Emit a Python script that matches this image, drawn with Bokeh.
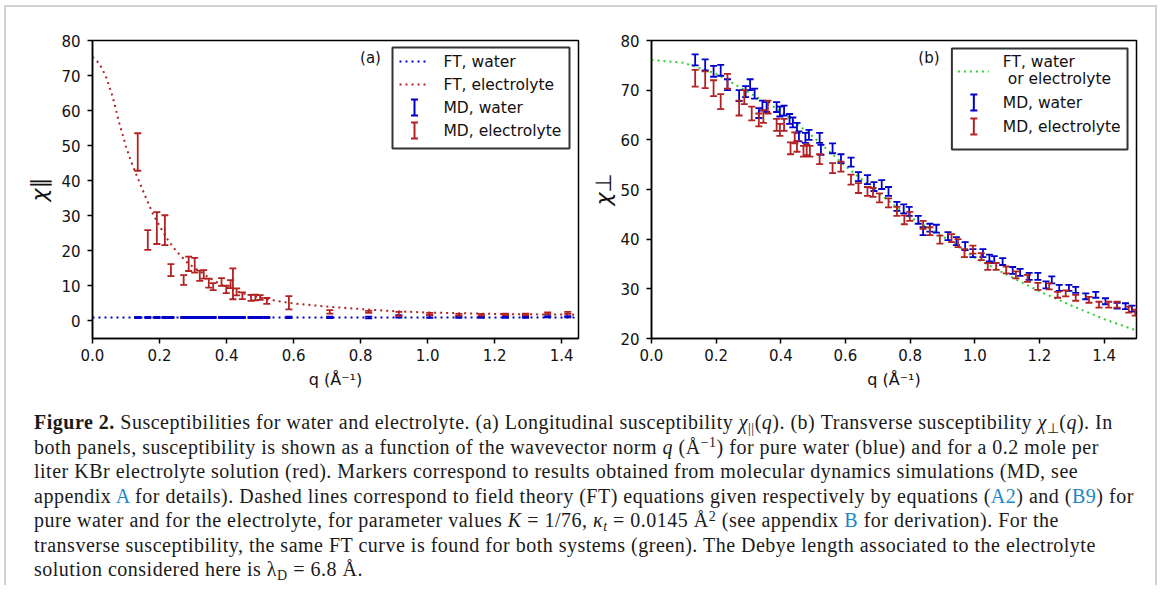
from bokeh.plotting import figure
from bokeh.models import (Range1d, FixedTicker, PrintfTickFormatter, Label,
                          BoxAnnotation, Div, ColumnDataSource)
from bokeh.layouts import row, column
from bokeh.embed import file_html
from bokeh.resources import INLINE

RED = "#b22222"
BLUE = "#0000cd"
GREEN = "#32cd32"

# ---------------- Panel (a): longitudinal susceptibility ----------------
q_ft_a = [0.0, 0.02, 0.04, 0.06, 0.08, 0.10, 0.12, 0.14, 0.16, 0.18, 0.20, 0.22,
          0.24, 0.26, 0.28, 0.30, 0.35, 0.40, 0.45, 0.50, 0.55, 0.60, 0.70, 0.80,
          0.90, 1.00, 1.10, 1.20, 1.30, 1.45]
chi_par_ft_elec = [75.3, 73.5, 69.8, 64.0, 56.4, 49.7, 44.2, 39.6, 35.0, 30.6, 27.1, 23.8,
                   21.1, 18.9, 16.9, 15.4, 12.2, 9.5, 7.8, 6.7, 5.7, 5.0, 4.1, 3.4,
                   2.8, 2.4, 2.2, 2.0, 1.9, 1.8]
q_ft_water_a = [0.0, 0.2, 0.4, 0.6, 0.8, 1.0, 1.2, 1.45]
chi_par_ft_water = [1.0, 1.0, 1.0, 1.0, 1.0, 1.0, 1.0, 1.0]

q_md_a = [0.135, 0.165, 0.192, 0.216, 0.234, 0.272, 0.287, 0.305, 0.320, 0.332,
          0.347, 0.360, 0.385, 0.399, 0.412, 0.419, 0.430, 0.447, 0.473, 0.486,
          0.500, 0.520, 0.586, 0.708, 0.824, 0.914, 1.006, 1.093, 1.160, 1.232,
          1.292, 1.358, 1.418]
chi_par_md_elec = [48.2, 23.1, 26.5, 25.9, 14.5, 11.7, 16.3, 15.9, 12.9, 13.3,
                   10.8, 9.8, 11.1, 9.0, 10.5, 10.6, 8.3, 7.2, 6.6, 6.7,
                   6.7, 5.7, 5.2, 2.6, 2.6, 2.0, 2.0, 1.8, 1.8, 1.9,
                   1.9, 2.2, 2.3]
err_par_md_elec = [5.35, 2.8, 4.55, 4.25, 1.7, 1.4, 2.05, 2.1, 1.45, 1.2,
                   1.3, 1.0, 1.1, 1.05, 1.15, 4.4, 1.0, 0.95, 0.85, 0.8,
                   0.7, 0.85, 1.9, 0.5, 0.3, 0.6, 0.3, 0.25, 0.25, 0.2,
                   0.2, 0.25, 0.3]
chi_par_md_water = [1.0, 1.0, 1.0, 0.99, 1.0, 0.99, 1.0, 1.0, 1.0, 1.0,
                    0.99, 1.0, 1.0, 1.0, 1.0, 0.99, 1.0, 1.0, 1.0, 1.0,
                    1.0, 1.0, 1.0, 1.0, 1.0, 1.3, 1.2, 1.1, 1.1, 1.1,
                    1.1, 1.2, 1.2]
err_par_md_water = [0.15, 0.15, 0.15, 0.15, 0.15, 0.15, 0.15, 0.15, 0.15, 0.15,
                    0.15, 0.15, 0.15, 0.15, 0.15, 0.15, 0.15, 0.15, 0.15, 0.15,
                    0.15, 0.15, 0.2, 0.2, 0.25, 0.35, 0.3, 0.2, 0.2, 0.2,
                    0.2, 0.2, 0.2]

# ---------------- Panel (b): transverse susceptibility ----------------
q_ft_b = [0.0, 0.1, 0.2, 0.3, 0.4, 0.5, 0.6, 0.7, 0.8, 0.9, 1.0, 1.1, 1.2, 1.3, 1.4, 1.5]
chi_perp_ft = [76.1, 75.5, 73.3, 69.6, 65.8, 60.6, 54.7, 49.4, 44.4, 40.6, 36.3, 32.8,
               29.5, 26.6, 23.9, 21.6]

q_md_b_water = [0.135, 0.166, 0.192, 0.214, 0.235, 0.271, 0.291, 0.305, 0.319, 0.332,
                0.343, 0.356, 0.387, 0.397, 0.410, 0.427, 0.437, 0.450, 0.456, 0.476,
                0.487, 0.520, 0.524, 0.560, 0.586, 0.617, 0.640, 0.668, 0.688, 0.712,
                0.733, 0.759, 0.780, 0.797, 0.825, 0.840, 0.861, 0.881, 0.917, 0.943,
                0.970, 0.994, 1.025, 1.045, 1.060, 1.086, 1.117, 1.140, 1.168, 1.195,
                1.220, 1.238, 1.261, 1.291, 1.312, 1.343, 1.374, 1.404, 1.440, 1.466,
                1.486]
chi_perp_md_water = [76.1, 75.1, 73.8, 74.0, 71.1, 68.9, 69.7, 71.1, 69.3, 65.4,
                     66.9, 66.6, 66.6, 65.7, 65.9, 64.2, 63.5, 62.4, 60.7, 60.4,
                     61.0, 60.4, 58.0, 58.3, 56.2, 55.5, 52.6, 52.0, 50.6, 51.0,
                     49.6, 46.6, 46.1, 45.6, 43.9, 41.6, 42.3, 42.1, 40.6, 39.6,
                     38.6, 37.2, 37.2, 36.2, 35.9, 35.5, 33.7, 33.3, 32.5, 32.5,
                     30.8, 31.8, 30.2, 30.2, 29.8, 28.5, 28.8, 27.5, 26.6, 26.5,
                     26.0]
err_perp_md_water = [1.1, 1.1, 1.1, 1.1, 1.1, 1.1, 1.1, 1.1, 1.0, 1.0,
                     1.0, 1.0, 1.0, 1.0, 1.0, 1.0, 1.0, 1.0, 1.0, 1.0,
                     1.0, 1.0, 1.0, 1.0, 0.9, 0.9, 0.9, 0.9, 0.9, 0.9,
                     0.9, 0.9, 0.9, 0.9, 0.8, 0.8, 0.8, 0.8, 0.8, 0.8,
                     0.8, 0.8, 0.8, 0.7, 0.7, 0.7, 0.7, 0.7, 0.7, 0.7,
                     0.7, 0.7, 0.6, 0.6, 0.6, 0.6, 0.6, 0.6, 0.6, 0.6,
                     0.6]

q_md_b_elec = [0.135, 0.166, 0.192, 0.214, 0.235, 0.271, 0.287, 0.310, 0.332, 0.346,
               0.360, 0.387, 0.397, 0.410, 0.430, 0.443, 0.450, 0.470, 0.480, 0.490,
               0.520, 0.560, 0.586, 0.617, 0.640, 0.668, 0.685, 0.705, 0.733, 0.759,
               0.782, 0.799, 0.840, 0.861, 0.892, 0.928, 0.948, 0.968, 0.994, 1.020,
               1.040, 1.066, 1.097, 1.127, 1.163, 1.195, 1.230, 1.256, 1.281, 1.312,
               1.353, 1.384, 1.414, 1.440, 1.476, 1.496]
chi_perp_md_elec = [72.4, 72.1, 70.4, 67.7, 71.8, 66.4, 68.6, 65.3, 64.0, 64.7,
                    66.6, 63.0, 62.0, 63.0, 58.3, 60.4, 58.7, 57.7, 58.0, 57.7,
                    56.1, 54.3, 54.6, 52.0, 50.3, 49.6, 49.4, 48.3, 47.3, 45.6,
                    43.9, 44.6, 42.9, 41.6, 39.9, 40.2, 39.2, 37.2, 37.9, 36.5,
                    34.5, 34.5, 33.8, 32.8, 32.1, 30.5, 30.5, 28.8, 29.1, 28.2,
                    27.8, 26.8, 26.8, 26.8, 25.8, 25.2]
err_perp_md_elec = [1.7, 1.7, 1.6, 1.5, 1.5, 1.5, 1.4, 1.4, 1.3, 1.3,
                    1.3, 1.2, 1.2, 1.2, 1.2, 1.1, 1.1, 1.1, 1.1, 1.1,
                    1.0, 1.0, 1.0, 1.0, 1.0, 0.9, 0.9, 0.9, 0.9, 0.9,
                    0.9, 0.9, 0.8, 0.8, 0.8, 0.8, 0.8, 0.8, 0.8, 0.7,
                    0.7, 0.7, 0.7, 0.7, 0.7, 0.7, 0.6, 0.6, 0.6, 0.6,
                    0.6, 0.6, 0.6, 0.6, 0.6, 0.6]

x_ticks = [0.0, 0.2, 0.4, 0.6, 0.8, 1.0, 1.2, 1.4]
y_ticks_a = [0, 10, 20, 30, 40, 50, 60, 70, 80]
y_ticks_b = [20, 30, 40, 50, 60, 70, 80]

# ---------------- layout constants ----------------
FRAME_W, FRAME_H = 486, 298
MB_TOP, MB_BOTTOM = 33, 72
FIG_H = MB_TOP + FRAME_H + MB_BOTTOM
FONT = "DejaVu Sans"


def make_fig(width, mb_left, mb_right, xr, yr, yticks, ylabel, ylabel_standoff):
    p = figure(width=width, height=FIG_H, x_range=Range1d(*xr), y_range=Range1d(*yr),
               output_backend="svg", toolbar_location=None,
               min_border_left=mb_left, min_border_right=mb_right,
               min_border_top=MB_TOP, min_border_bottom=MB_BOTTOM)
    p.grid.visible = False
    p.outline_line_color = "black"
    p.outline_line_width = 1.5
    p.outline_line_alpha = 1.0
    p.background_fill_color = "white"
    p.border_fill_color = "white"
    for ax in (p.xaxis[0], p.yaxis[0]):
        ax.axis_line_width = 1.5
        ax.axis_line_color = "black"
        ax.major_tick_line_width = 1.5
        ax.major_tick_line_color = "black"
        ax.major_tick_out = 5
        ax.major_tick_in = 0
        ax.minor_tick_line_color = None
        ax.major_label_text_font = FONT
        ax.major_label_text_font_size = "15px"
        ax.major_label_text_color = "#111111"
    p.xaxis.major_label_standoff = 5
    p.yaxis.major_label_standoff = 7
    p.xaxis.ticker = FixedTicker(ticks=x_ticks)
    p.xaxis.formatter = PrintfTickFormatter(format="%.1f")
    p.yaxis.ticker = FixedTicker(ticks=yticks)
    p.xaxis.axis_label = "q (Å⁻¹)"
    p.xaxis.axis_label_text_font = FONT
    p.xaxis.axis_label_text_font_size = "16px"
    p.xaxis.axis_label_text_font_style = "normal"
    p.xaxis.axis_label_text_color = "#111111"
    p.xaxis.axis_label_standoff = 6
    p.yaxis.axis_label = ylabel
    p.yaxis.axis_label_text_font = FONT
    p.yaxis.axis_label_text_font_size = "22px"
    p.yaxis.axis_label_text_font_style = "italic"
    p.yaxis.axis_label_text_color = "#111111"
    p.yaxis.axis_label_standoff = ylabel_standoff
    return p


def errorbars(p, q, y, e, color):
    lo = [a - b for a, b in zip(y, e)]
    hi = [a + b for a, b in zip(y, e)]
    src = ColumnDataSource(dict(q=q, y=y, lo=lo, hi=hi))
    p.segment(x0="q", y0="lo", x1="q", y1="hi", source=src, line_color=color, line_width=1.8)
    p.scatter(x="q", y="lo", marker="dash", size=7, line_color=color, line_width=1.8, source=src)
    p.scatter(x="q", y="hi", marker="dash", size=7, line_color=color, line_width=1.8, source=src)


def px_mappers(xr, yr):
    # pixel offsets from the plot frame's top-left corner -> data coordinates
    def mx(px):
        return xr[0] + px / FRAME_W * (xr[1] - xr[0])

    def my(py):
        return yr[1] - py / FRAME_H * (yr[1] - yr[0])
    return mx, my


def legend_key_bar(p, mx, my, px, py, color):
    p.segment(x0=[mx(px)], y0=[my(py + 8)], x1=[mx(px)], y1=[my(py - 8)],
              line_color=color, line_width=2)
    p.scatter(x=[mx(px), mx(px)], y=[my(py + 8), my(py - 8)], marker="dash", size=7,
              line_color=color, line_width=2)


def legend_key_line(p, mx, my, px0, px1, py, color):
    p.line(x=[mx(px0), mx(px1)], y=[my(py), my(py)], line_color=color, line_width=2,
           line_dash="2 4")


def legend_text(p, mx, my, px, py, text):
    p.add_layout(Label(x=mx(px), y=my(py), text=text, text_font=FONT,
                       text_font_size="15.5px", text_baseline="middle", text_align="left",
                       text_color="#111111"))


def legend_box(p, mx, my, l, r, t, b):
    p.add_layout(BoxAnnotation(left=mx(l), right=mx(r), top=my(t), bottom=my(b),
                               fill_color="white", fill_alpha=1.0, line_color="#333333",
                               line_alpha=1.0, line_width=2, level="underlay"))


# ---------------- Panel (a) ----------------
XR_A, YR_A = (0.0, 1.45), (-5.0, 80.0)
pa = make_fig(582, 86, 10, XR_A, YR_A, y_ticks_a, "χ∥", 6)
mxa, mya = px_mappers(XR_A, YR_A)
legend_box(pa, mxa, mya, 300, 477, 7, 108)
pa.line(q_ft_water_a, chi_par_ft_water, line_color=BLUE, line_width=2, line_dash="2 4")
pa.line(q_ft_a, chi_par_ft_elec, line_color=RED, line_width=2, line_dash="2 4")
errorbars(pa, q_md_a, chi_par_md_water, err_par_md_water, BLUE)
errorbars(pa, q_md_a, chi_par_md_elec, err_par_md_elec, RED)

legend_key_line(pa, mxa, mya, 307, 335, 21, BLUE)
legend_key_line(pa, mxa, mya, 307, 335, 44, RED)
legend_key_bar(pa, mxa, mya, 322, 67, BLUE)
legend_key_bar(pa, mxa, mya, 322, 90, RED)
for py, t in [(21, "FT, water"), (44, "FT, electrolyte"), (67, "MD, water"), (90, "MD, electrolyte")]:
    legend_text(pa, mxa, mya, 351, py, t)
pa.add_layout(Label(x=mxa(278), y=mya(17), text="(a)", text_font=FONT, text_font_size="15px",
                    text_align="center", text_baseline="middle", text_color="#111111"))

# ---------------- Panel (b) ----------------
XR_B, YR_B = (0.0, 1.5), (20.0, 80.0)
pb = make_fig(567, 62, 19, XR_B, YR_B, y_ticks_b, "χ⊥", 1)
mxb, myb = px_mappers(XR_B, YR_B)
legend_box(pb, mxb, myb, 301, 477, 8, 109)
pb.line(q_ft_b, chi_perp_ft, line_color=GREEN, line_width=2, line_dash="2 4")
errorbars(pb, q_md_b_water, chi_perp_md_water, err_perp_md_water, BLUE)
errorbars(pb, q_md_b_elec, chi_perp_md_elec, err_perp_md_elec, RED)

legend_key_line(pb, mxb, myb, 307, 338, 31, GREEN)
legend_key_bar(pb, mxb, myb, 323, 62, BLUE)
legend_key_bar(pb, mxb, myb, 323, 86, RED)
for py, t in [(21, "FT, water"), (38, "\u00a0or electrolyte"), (62, "MD, water"), (86, "MD, electrolyte")]:
    legend_text(pb, mxb, myb, 352, py, t)
pb.add_layout(Label(x=mxb(278), y=myb(17), text="(b)", text_font=FONT, text_font_size="15px",
                    text_align="center", text_baseline="middle", text_color="#111111"))

# ---------------- Caption ----------------
LINK = "#1a87c8"


def sub(t):
    return '<span style="font-size:70%;position:relative;top:0.3em;line-height:0">' + t + '</span>'


def sup(t):
    return '<span style="font-size:70%;position:relative;top:-0.45em;line-height:0">' + t + '</span>'


def link(t):
    return '<span style="color:' + LINK + '">' + t + '</span>'


caption_lines = [
    "<b>Figure 2.</b> Susceptibilities for water and electrolyte. (a) Longitudinal susceptibility "
    "<i>χ</i>" + sub("||") + "(<i>q</i>). (b) Transverse susceptibility <i>χ</i>" + sub("⊥")
    + "(<i>q</i>). In",
    "both panels, susceptibility is shown as a function of the wavevector norm <i>q</i> (Å"
    + sup("−1") + ") for pure water (blue) and for a 0.2 mole per",
    "liter KBr electrolyte solution (red). Markers correspond to results obtained from molecular "
    "dynamics simulations (MD, see",
    "appendix " + link("A") + " for details). Dashed lines correspond to field theory (FT) equations "
    "given respectively by equations (" + link("A2") + ") and (" + link("B9") + ") for",
    "pure water and for the electrolyte, for parameter values <i>K</i> = 1/76, <i>κ</i>"
    + sub("<i>t</i>") + " = 0.0145 Å" + sup("2") + " (see appendix " + link("B")
    + " for derivation). For the",
    "transverse susceptibility, the same FT curve is found for both systems (green). The Debye "
    "length associated to the electrolyte",
    "solution considered here is λ" + sub("D") + " = 6.8 Å.",
]

caption_html = ('<div style="font-family:\'Liberation Serif\',serif;font-size:20px;'
                'letter-spacing:0.5px;line-height:24.5px;color:#1a1a1a;white-space:nowrap;'
                'padding-left:28px;">' + "<br>".join(caption_lines) + "</div>")
cap = Div(text=caption_html, width=1149, height=175, margin=0)

layout = column(row(pa, pb), cap, margin=(5, 0, 0, 4),
                styles={"border-left": "2px solid #d2d2d2", "border-top": "2px solid #d2d2d2",
                        "border-right": "2px solid #d2d2d2"})

with open("out.html", "w") as f:
    f.write(file_html(layout, INLINE))
